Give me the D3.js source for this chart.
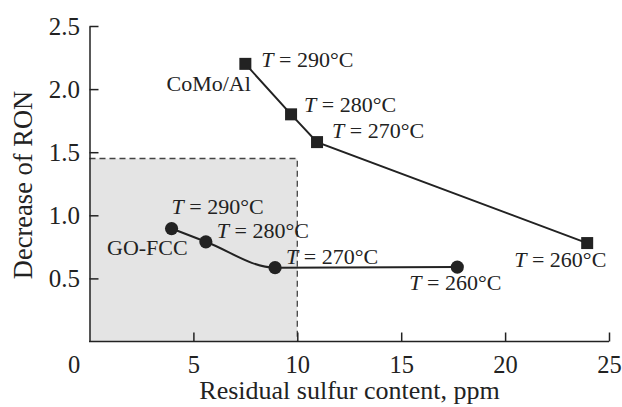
<!DOCTYPE html>
<html lang="en">
<head>
<meta charset="utf-8">
<title>Decrease of RON vs residual sulfur</title>
<script src="https://d3js.org/d3.v7.min.js"></script>
<style>
    body{
        margin: 0;
        background: #ffffff;
    }
    text{
        font-family: 'Liberation Serif', 'Times New Roman', serif;
        fill: #222222;
    }
    .axis path, .axis line{
        stroke: #222222;
        stroke-width: 1.5;
    }
    .axis text{
        font-size: 25px;
    }
    .note{
        font-size: 22px;
    }
</style>
</head>
<body>
<svg width="622" height="407"></svg>
<script>
// data
var xTicks = [0, 5, 10, 15, 20, 25];
var yTicks = [0.5, 1.0, 1.5, 2.0, 2.5];
var temps = ["290", "280", "270", "260"];

var comoName = "CoMo/Al";
var comoSulfur = [7.5, 9.7, 10.95, 23.95];
var comoRon = [2.2, 1.8, 1.58, 0.78];

var goName = "GO-FCC";
var goSulfur = [3.95, 5.6, 8.93, 17.7];
var goRon = [0.895, 0.79, 0.585, 0.59];

// shaded region (sulfur below 10 ppm, RON loss below 1.45)
var boxSulfur = 10;
var boxRon = 1.45;

var svg = d3.select("svg"),
    margin = {top: 26, right: 13, bottom: 65.5, left: 89.5},
    width = +svg.attr("width") - margin.left - margin.right,
    height = +svg.attr("height") - margin.top - margin.bottom;

var x = d3.scaleLinear().domain([0, 25]).range([margin.left, margin.left + width]);
var y = d3.scaleLinear().domain([0, 2.5]).range([margin.top + height, margin.top]);

// grey box with dashed top/right edges
svg.append("rect")
    .attr("x", x(0))
    .attr("y", y(boxRon))
    .attr("width", x(boxSulfur) - x(0))
    .attr("height", y(0) - y(boxRon))
    .attr("fill", "#e4e4e4");
svg.append("path")
    .attr("d", "M" + x(0) + "," + y(boxRon) + "H" + x(boxSulfur) + "V" + y(0))
    .attr("fill", "none")
    .attr("stroke", "#444")
    .attr("stroke-width", 1.3)
    .attr("stroke-dasharray", "6,4");

// axes, ticks pointing inwards
var xAxis = svg.append("g")
    .attr("class", "axis")
    .attr("transform", "translate(0," + y(0) + ")")
    .call(d3.axisBottom(x).tickValues(xTicks).tickSizeInner(-9).tickSizeOuter(0).tickPadding(14.5).tickFormat(d3.format("d")));
xAxis.select(".domain").attr("d", "M" + (x(0) - 0.5) + ",0H" + x(25));
xAxis.selectAll("text").style("font-size", "24.5px");
xAxis.selectAll(".tick").filter(function(d) { return d === 0; })
    .each(function() {
        d3.select(this).select("line").remove();
        d3.select(this).select("text").attr("x", -16);
    });

svg.append("g")
    .attr("class", "axis")
    .attr("transform", "translate(" + x(0) + ",0)")
    .call(d3.axisLeft(y).tickValues(yTicks).tickSizeInner(-9).tickSizeOuter(0).tickPadding(9.5).tickFormat(d3.format(".1f")));

svg.selectAll(".axis text").style("font-family", "'Liberation Serif', serif").attr("fill", "#222");

svg.append("text")
    .attr("x", 349.5)
    .attr("y", 399)
    .attr("text-anchor", "middle")
    .style("font-size", "26px")
    .text("Residual sulfur content, ppm");

svg.append("text")
    .attr("transform", "translate(32,185) rotate(-90)")
    .attr("text-anchor", "middle")
    .style("font-size", "26.5px")
    .text("Decrease of RON");

// series
var como = comoSulfur.map(function(s, i) { return {x: s, y: comoRon[i], t: temps[i]}; });
var go = goSulfur.map(function(s, i) { return {x: s, y: goRon[i], t: temps[i]}; });

svg.append("path")
    .datum(como)
    .attr("fill", "none")
    .attr("stroke", "#222")
    .attr("stroke-width", 2)
    .attr("d", d3.line().x(function(d) { return x(d.x); }).y(function(d) { return y(d.y); }));

svg.append("path")
    .datum(go)
    .attr("fill", "none")
    .attr("stroke", "#222")
    .attr("stroke-width", 2)
    .attr("d", d3.line().curve(d3.curveMonotoneX).x(function(d) { return x(d.x); }).y(function(d) { return y(d.y); }));

svg.selectAll(".sq")
    .data(como)
    .enter().append("rect")
    .attr("class", "sq")
    .attr("x", function(d) { return x(d.x) - 6; })
    .attr("y", function(d) { return y(d.y) - 6; })
    .attr("width", 12)
    .attr("height", 12)
    .attr("fill", "#222");

svg.selectAll(".dot")
    .data(go)
    .enter().append("circle")
    .attr("class", "dot")
    .attr("cx", function(d) { return x(d.x); })
    .attr("cy", function(d) { return y(d.y); })
    .attr("r", 6.6)
    .attr("fill", "#222");

// temperature labels, offsets from each marker
var comoOff = [[16, 3], [13, -2], [15, -4], [-73, 24]];
var goOff = [[0, -15], [11, -4], [11, -4], [-48, 23]];

function tempLabels(data, off) {
    data.forEach(function(d, i) {
        var t = svg.append("text")
            .attr("class", "note")
            .attr("x", x(d.x) + off[i][0])
            .attr("y", y(d.y) + off[i][1]);
        t.append("tspan").style("font-style", "italic").text("T");
        t.append("tspan").text(" = " + d.t + "°C");
    });
}
tempLabels(como, comoOff);
tempLabels(go, goOff);

svg.append("text").attr("class", "note").attr("x", 166.5).attr("y", 91).text(comoName);
svg.append("text").attr("class", "note").attr("x", 107).attr("y", 255).text(goName);
</script>
</body>
</html>
